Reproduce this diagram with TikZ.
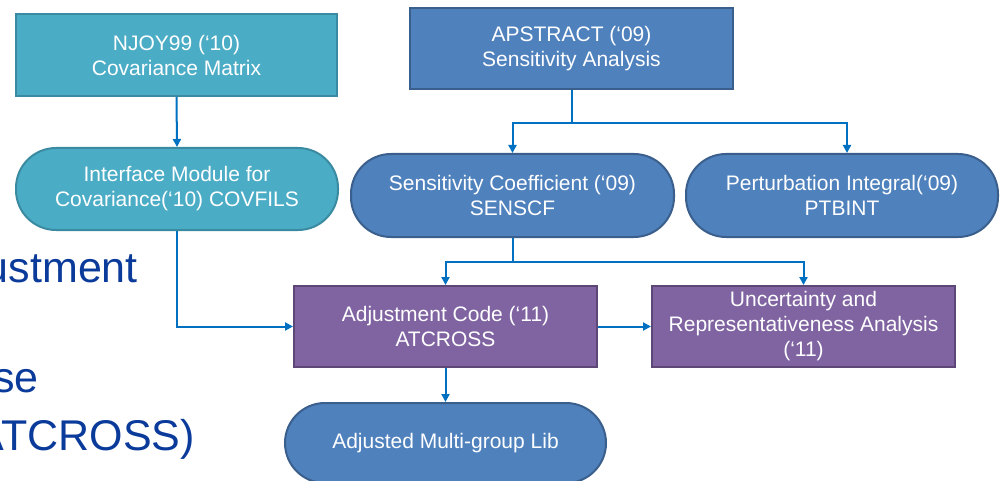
\documentclass[tikz,border=0pt]{standalone}
\usepackage{fontspec}
\setmainfont{Liberation Sans}
\usetikzlibrary{arrows.meta}
\definecolor{tealfill}{HTML}{4BACC6}
\definecolor{tealline}{HTML}{3A8BA1}
\definecolor{bluefill}{HTML}{4F81BD}
\definecolor{blueline}{HTML}{3A5F8C}
\definecolor{purpfill}{HTML}{8064A2}
\definecolor{purpline}{HTML}{5C4776}
\definecolor{arrowcol}{HTML}{0070C0}
\definecolor{bgtext}{HTML}{0A3A9A}
\begin{document}
\begin{tikzpicture}[x=1pt,y=-1pt,
  boxtext/.style={text=white,align=center,font=\fontsize{21}{25}\selectfont,inner sep=0pt},
  tealbox/.style={boxtext,rectangle,fill=tealfill,draw=tealline,line width=2pt},
  tealpill/.style={boxtext,rectangle,rounded corners=40pt,fill=tealfill,draw=tealline,line width=2pt},
  bluebox/.style={boxtext,rectangle,fill=bluefill,draw=blueline,line width=2pt},
  bluepill/.style={boxtext,rectangle,rounded corners=40pt,fill=bluefill,draw=blueline,line width=2pt},
  purpbox/.style={boxtext,rectangle,fill=purpfill,draw=purpline,line width=2pt},
  conn/.style={draw=arrowcol,line width=2pt},
  arr/.style={conn,-{Triangle[length=8pt,width=8pt]}},
  bgword/.style={text=bgtext,font=\fontsize{43}{50}\selectfont,inner sep=0pt,anchor=base east}
]
\useasboundingbox (0,0) rectangle (1000,481);
\begin{scope}
\clip (0,0) rectangle (1000,481);
% background slide text
\node[bgword] (bg1) at (138,282) {ustment};
\node[bgword] (bg2) at (39,392) {se};
\node[bgword] (bg3) at (195,450) {ATCROSS)};

% nodes
\node[tealbox, minimum width=321pt, minimum height=82pt] (njoy) at (176.5,55) {NJOY99 (‘10)\\Covariance Matrix};
\node[tealpill, minimum width=322pt, minimum height=82pt] (iface) at (177,189) {Interface Module for\\Covariance(‘10) COVFILS};
\node[bluebox, minimum width=323pt, minimum height=81pt] (apstract) at (571.5,48.5) {APSTRACT (‘09)\\Sensitivity Analysis};
\node[bluepill, minimum width=323pt, minimum height=83pt] (sens) at (512.5,195.5) {Sensitivity Coefficient (‘09)\\SENSCF};
\node[bluepill, minimum width=312pt, minimum height=83pt] (pert) at (842,195.5) {Perturbation Integral(‘09)\\PTBINT};
\node[purpbox, minimum width=303pt, minimum height=81pt] (adj) at (445.5,326.5) {Adjustment Code (‘11)\\ATCROSS};
\node[purpbox, minimum width=303pt, minimum height=81pt] (unc) at (803.5,326.5) {Uncertainty and\\Representativeness Analysis\\(‘11)};
\node[bluepill, minimum width=321pt, minimum height=80pt] (lib) at (445.5,443) {Adjusted Multi-group Lib};

% connectors
\draw[arr] (njoy.south) -- (iface.north);
\draw[arr] (iface.south) |- (adj.west);
\draw[conn] (apstract.south) -- ++(0,33) coordinate (j1);
\draw[arr] (j1) -| (sens.north);
\draw[arr] (j1) -| ([xshift=5pt]pert.north);
\draw[conn] (sens.south) -- ++(0,23.5) coordinate (j2);
\draw[arr] (j2) -| (adj.north);
\draw[arr] (j2) -| (unc.north);
\draw[arr] (adj.east) -- (unc.west);
\draw[arr] (adj.south) -- (lib.north);
\end{scope}
\end{tikzpicture}
\end{document}
